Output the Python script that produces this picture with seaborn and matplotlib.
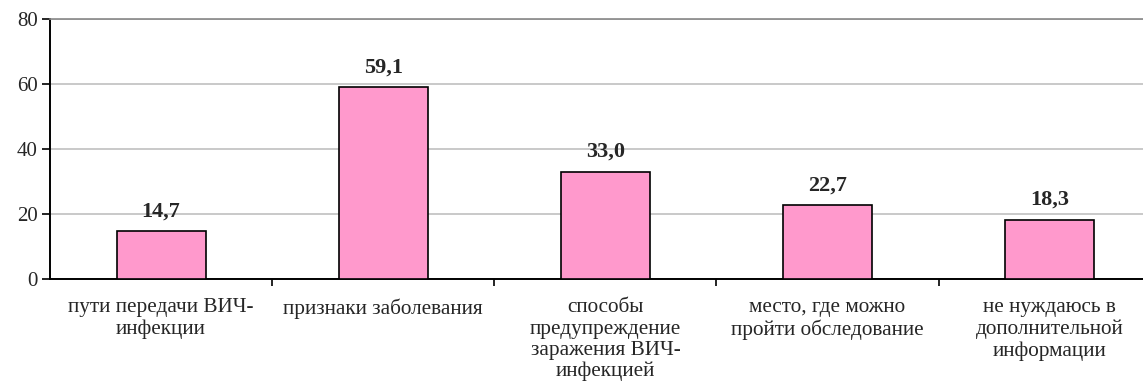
import matplotlib
matplotlib.use("Agg")
import matplotlib.pyplot as plt
import seaborn as sns
import pandas as pd
from matplotlib.ticker import FixedLocator

categories = [
    "пути передачи ВИЧ-\nинфекции",
    "признаки заболевания",
    "способы\nпредупреждение\nзаражения ВИЧ-\nинфекцией",
    "место, где можно\nпройти обследование",
    "не нуждаюсь в\nдополнительной\nинформации",
]
values = [14.7, 59.1, 33.0, 22.7, 18.3]
y_ticks = [0, 20, 40, 60, 80]

sns.set_style("white")
plt.rcParams["font.family"] = ["Liberation Serif", "DejaVu Serif"]

df = pd.DataFrame({"category": categories, "value": values})

fig = plt.figure(figsize=(11.43, 3.91), dpi=100)
ax = fig.add_axes([50 / 1143, (391 - 279) / 391, 1 - 50 / 1143, (279 - 19) / 391])

sns.barplot(data=df, x="category", y="value", color="#FF99CC", edgecolor="black",
            linewidth=1.2, width=0.4, saturation=1, ax=ax, zorder=3)

ax.set_ylim(0, 80)
ax.set_xlim(-0.5, 4.42)
ax.set_yticks(y_ticks)
ax.set_yticklabels([str(t) for t in y_ticks], fontsize=15)
ax.yaxis.grid(True, color="#c0c0c0", linewidth=1.2, zorder=0)
ax.set_xlabel("")
ax.set_ylabel("")

ax.tick_params(axis="x", which="major", length=0, pad=14, labelsize=15.3)
ax.xaxis.set_minor_locator(FixedLocator([0.5, 1.5, 2.5, 3.5]))
ax.tick_params(axis="x", which="minor", length=5, width=1.2, color="black", direction="out", bottom=True)
ax.tick_params(axis="y", length=6, width=1.2, color="black", direction="out", left=True, pad=3)
for lbl in ax.get_xticklabels():
    lbl.set_linespacing(1.15)

ax.spines["right"].set_visible(False)
ax.spines["top"].set_color("#888888")
ax.spines["top"].set_linewidth(1.2)
for side in ["left", "bottom"]:
    ax.spines[side].set_color("black")
    ax.spines[side].set_linewidth(1.4)

for i, v in enumerate(values):
    ax.annotate(f"{v:.1f}".replace(".", ","), (i, v), xytext=(0, 7), textcoords="offset points",
                ha="center", va="bottom", fontsize=16, fontweight="bold")

fig.savefig("out.png", dpi=100)
